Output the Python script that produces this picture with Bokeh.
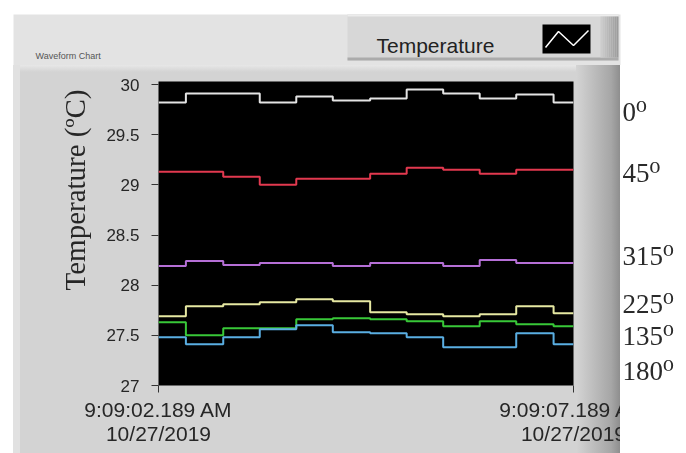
import pandas as pd
from bokeh.plotting import figure
from bokeh.layouts import column, row
from bokeh.models import (Range1d, FixedTicker, NumeralTickFormatter, ColumnDataSource,
                          LinearAxis)
from bokeh.core.properties import value
from bokeh.embed import file_html
from bokeh.resources import INLINE

# ---- data -----------------------------------------------------------------
start_time = pd.Timestamp("2019-10-27 09:09:02.189")
window_s = 5.0
sample_offsets_s = [0.00, 0.33, 0.78, 1.22, 1.66, 2.10, 2.55, 2.99, 3.43, 3.87, 4.31, 4.76]

temp_0 = [29.82, 29.91, 29.91, 29.82, 29.88, 29.84, 29.86, 29.95, 29.91, 29.86, 29.90, 29.82]
temp_45 = [29.13, 29.13, 29.08, 29.00, 29.06, 29.06, 29.11, 29.17, 29.15, 29.11, 29.15, 29.15]
temp_315 = [28.19, 28.24, 28.20, 28.22, 28.22, 28.19, 28.22, 28.22, 28.19, 28.25, 28.22, 28.22]
temp_225 = [27.69, 27.79, 27.81, 27.83, 27.86, 27.84, 27.73, 27.71, 27.69, 27.71, 27.79, 27.72]
temp_135 = [27.63, 27.50, 27.57, 27.57, 27.66, 27.67, 27.66, 27.64, 27.59, 27.64, 27.61, 27.59]
temp_180 = [27.48, 27.41, 27.48, 27.56, 27.60, 27.53, 27.52, 27.48, 27.38, 27.38, 27.52, 27.41]

series_angles = ["0", "45", "315", "225", "135", "180"]
series_values = [temp_0, temp_45, temp_315, temp_225, temp_135, temp_180]
series_colors = ["#e4e4e4", "#e2394f", "#b56fd6", "#e6e8a2", "#38c838", "#5aaee2"]
# heights (in °C) at which the series names sit beside the chart
name_levels = [29.73, 29.12, 28.29, 27.81, 27.49, 27.14]

y_ticks = [27, 27.5, 28, 28.5, 29, 29.5, 30]
x_tick_labels = ["9:09:02.189 AM\n10/27/2019", "9:09:07.189 AM\n10/27/2019"]

# ---- time axis values ------------------------------------------------------
end_time = start_time + pd.Timedelta(seconds=window_s)
times = [start_time + pd.Timedelta(seconds=s) for s in sample_offsets_s] + [end_time]


def to_ms(ts):
    return float((ts - pd.Timestamp("1970-01-01")) / pd.Timedelta(milliseconds=1))


t0_ms, t1_ms = to_ms(start_time), to_ms(end_time)

W, H = 686, 453
HEAD_H = 65          # caption / legend strip
BODY_H = H - HEAD_H
SERIF = "'Liberation Serif', 'DejaVu Serif', serif"


def gray(v):
    v = int(round(v))
    return "#%02x%02x%02x" % (v, v, v)


# ---- caption strip with the plot legend -----------------------------------
head = figure(width=W, height=HEAD_H, x_range=Range1d(0, W), y_range=Range1d(HEAD_H, 0),
              output_backend="svg", toolbar_location=None,
              x_axis_location=None, y_axis_location=None, min_border=0,
              background_fill_color="white", border_fill_color="white",
              outline_line_color=None)
head.grid.visible = False
head_rects = [
    (13, 620, 14, HEAD_H, "#e3e3e3"),
    (347, 618, 14, 60, "#d7d7d7"),
    (347, 618, 14, 16, "#ececec"),
    (347, 618, 57, 60, "#ababab"),
]
head_rects += [(600 + 2 * i, 602 + 2 * i, 16, 57, gray(0xcc + (0x9c - 0xcc) * i / 8))
               for i in range(9)]
head_rects += [(542, 590, 24, 53, "black")]
l, r, t, b, c = zip(*head_rects)
head.quad(source=ColumnDataSource(dict(l=l, r=r, t=t, b=b, c=c)),
          left="l", right="r", top="t", bottom="b", fill_color="c", line_color=None)
head.line([545, 558, 573, 588], [47, 31, 45, 30], line_color="white", line_width=1.5)
head.text(x=[376], y=[45], text=["Temperature"], text_font=value("Liberation Sans"),
          text_font_size=value("21px"), text_color="#222222", text_baseline="alphabetic")
head.text(x=[35], y=[55], text=["Waveform Chart"], text_font=value("Liberation Sans"),
          text_font_size=value("9px"), text_color="#555555", text_baseline="alphabetic")

# ---- main chart ------------------------------------------------------------
p = figure(width=W, height=BODY_H, output_backend="svg", toolbar_location=None,
           x_axis_type="datetime",
           x_range=Range1d(start_time, end_time), y_range=Range1d(27, 30.03),
           min_border_left=158, min_border_right=113, min_border_top=16,
           min_border_bottom=68,
           background_fill_color="black", border_fill_color=None, border_fill_alpha=0,
           outline_line_color=None)
p.grid.visible = False

solid = "linear-gradient(%s,%s)"
# panel face: white page edge, left bevel, top highlight, right bevel
p.styles = {
    "background": ", ".join([
        solid % ("#ffffff", "#ffffff") + " 620px 0 / 66px 100% no-repeat",
        solid % ("#ffffff", "#ffffff") + " 0 0 / 13px 100% no-repeat",
        solid % ("#e1e1e1", "#e1e1e1") + " 13px 0 / 7px 100% no-repeat",
        "linear-gradient(to right, #d4d4d4, #a6a6a6 80%, #8e8e8e) 576px 0 / 44px 100% no-repeat",
        "linear-gradient(to bottom, #e7e7e7, #d3d3d3) 20px 0 / 556px 7px no-repeat",
        "#d3d3d3",
    ]),
    # the panel edge hides whatever runs past it below the series names
    "-webkit-mask": solid % ("#000", "#000") + " 0 0 / 620px 100% no-repeat, "
                    + solid % ("#000", "#000") + " 620px 0 / 66px 328px no-repeat",
    "mask": solid % ("#000", "#000") + " 0 0 / 620px 100% no-repeat, "
            + solid % ("#000", "#000") + " 620px 0 / 66px 328px no-repeat",
}

# step traces (each value holds until the next sample)
for vals, col in zip(series_values, series_colors):
    p.step(times, vals + [vals[-1]], mode="after", line_color=col, line_width=2)

xa = p.xaxis[0]
xa.ticker = FixedTicker(ticks=[t0_ms, t1_ms])
xa.major_label_overrides = {t0_ms: x_tick_labels[0], t1_ms: x_tick_labels[1]}
xa.major_label_text_font = "Liberation Sans"
xa.major_label_text_font_size = "21px"
xa.major_label_text_color = "#262626"
xa.major_label_text_line_height = 1.05
xa.major_label_standoff = 5
xa.major_tick_out = 7
xa.major_tick_in = 0
xa.major_tick_line_color = "#333333"
xa.minor_tick_line_color = None
xa.axis_line_color = None

ya = p.yaxis[0]
ya.ticker = FixedTicker(ticks=y_ticks)
ya.formatter = NumeralTickFormatter(format="0.[0]")
ya.axis_label = "\u00a0" * 12 + "Temperature (ºC)"
ya.axis_label_text_font = "Liberation Serif"
ya.axis_label_text_font_size = "29px"
ya.axis_label_text_font_style = "normal"
ya.axis_label_text_color = "#262626"
ya.axis_label_standoff = 12
ya.major_label_text_font = "Liberation Sans"
ya.major_label_text_font_size = "17px"
ya.major_label_text_color = "#262626"
ya.major_label_standoff = 12
ya.major_tick_out = 7
ya.major_tick_in = 0
ya.major_tick_line_color = "#333333"
ya.minor_tick_line_color = None
ya.axis_line_color = None

# series names (angle in degrees) on the right-hand side
names = LinearAxis(ticker=FixedTicker(ticks=name_levels),
                   major_label_overrides={lv: ang + "\u2070"
                                          for lv, ang in zip(name_levels, series_angles)})
names.major_label_text_font = SERIF
names.major_label_text_font_size = "27px"
names.major_label_text_color = "#2a2a2a"
names.major_label_standoff = 43
names.major_tick_line_color = None
names.minor_tick_line_color = None
names.axis_line_color = None
p.add_layout(names, "right")

layout = column(head, row(p, spacing=0), spacing=0)
open("out.html", "w").write(file_html(layout, INLINE))
